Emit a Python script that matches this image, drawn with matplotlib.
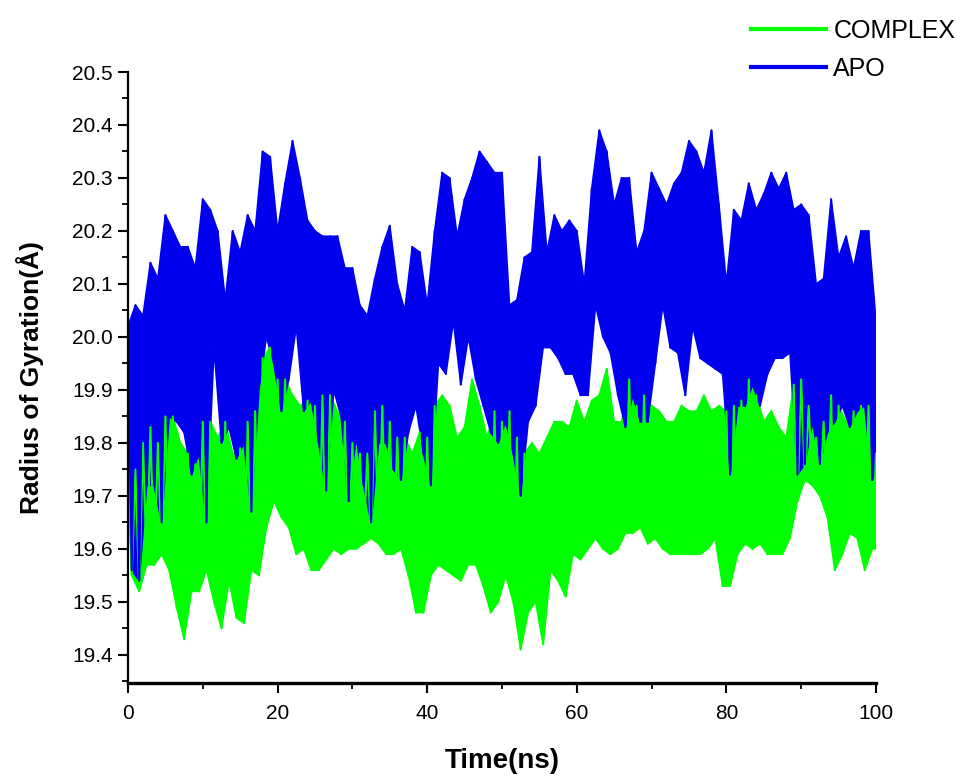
import numpy as np
import matplotlib
matplotlib.use('Agg')
import matplotlib.pyplot as plt
from matplotlib.ticker import MultipleLocator, FormatStrFormatter

plt.rcParams['font.family'] = ['Liberation Sans Narrow', 'Liberation Sans', 'DejaVu Sans']

# time axis, one bin per ns
time_ns = np.arange(0, 101)

# APO: upper / lower envelope of Rg per ns bin
apo_hi = [20.02, 20.06, 20.04, 20.14, 20.11, 20.23, 20.20, 20.17, 20.17, 20.13,
          20.26, 20.24, 20.20, 20.07, 20.20, 20.16, 20.23, 20.20, 20.35, 20.34,
          20.20, 20.29, 20.37, 20.30, 20.22, 20.20, 20.19, 20.19, 20.19, 20.13,
          20.13, 20.06, 20.04, 20.11, 20.17, 20.21, 20.10, 20.05, 20.17, 20.16,
          20.06, 20.20, 20.31, 20.30, 20.19, 20.26, 20.30, 20.35, 20.33, 20.31,
          20.31, 20.06, 20.07, 20.15, 20.16, 20.34, 20.16, 20.23, 20.20, 20.22,
          20.20, 20.10, 20.28, 20.39, 20.35, 20.25, 20.30, 20.30, 20.16, 20.20,
          20.31, 20.28, 20.25, 20.29, 20.31, 20.37, 20.35, 20.31, 20.39, 20.25,
          20.10, 20.24, 20.22, 20.29, 20.24, 20.27, 20.31, 20.28, 20.31, 20.24,
          20.25, 20.23, 20.10, 20.11, 20.26, 20.15, 20.19, 20.13, 20.20, 20.20, 20.03]
apo_lo = [19.56, 19.54, 19.72, 19.72, 19.65, 19.85, 19.84, 19.82, 19.74, 19.78,
          19.65, 19.98, 19.80, 19.83, 19.77, 19.80, 19.67, 19.90, 20.00, 19.95,
          19.86, 19.92, 20.02, 19.86, 19.88, 19.80, 19.71, 19.90, 19.85, 19.69,
          19.81, 19.72, 19.65, 19.80, 19.80, 19.75, 19.73, 19.82, 19.87, 19.78,
          19.72, 19.95, 19.93, 20.03, 19.91, 20.00, 19.92, 19.87, 19.82, 19.80,
          19.84, 19.78, 19.70, 19.84, 19.87, 19.98, 19.98, 19.96, 19.93, 19.93,
          19.89, 19.89, 20.06, 20.00, 19.97, 19.89, 19.83, 19.89, 19.84, 19.84,
          19.95, 20.06, 19.98, 19.97, 19.89, 20.02, 19.96, 19.95, 19.94, 19.93,
          19.74, 19.87, 19.87, 19.91, 19.87, 19.93, 19.96, 19.96, 19.97, 19.74,
          19.76, 19.84, 19.76, 19.82, 19.84, 19.87, 19.83, 19.86, 19.87, 19.73, 19.78]

# COMPLEX: upper / lower envelope
complex_hi = [19.76, 19.75, 19.80, 19.83, 19.80, 19.85, 19.85, 19.80, 19.78, 19.76,
              19.84, 19.84, 19.81, 19.84, 19.78, 19.79, 19.84, 19.86, 19.96, 19.98,
              19.92, 19.92, 19.89, 19.87, 19.88, 19.87, 19.89, 19.89, 19.86, 19.84,
              19.80, 19.78, 19.78, 19.86, 19.87, 19.84, 19.81, 19.81, 19.78, 19.82,
              19.81, 19.87, 19.89, 19.87, 19.81, 19.83, 19.92, 19.87, 19.81, 19.86,
              19.84, 19.86, 19.81, 19.78, 19.80, 19.78, 19.81, 19.84, 19.84, 19.83,
              19.88, 19.84, 19.88, 19.89, 19.94, 19.84, 19.84, 19.92, 19.87, 19.89,
              19.87, 19.86, 19.84, 19.84, 19.87, 19.86, 19.86, 19.89, 19.86, 19.87,
              19.86, 19.87, 19.88, 19.92, 19.89, 19.84, 19.86, 19.83, 19.81, 19.91,
              19.92, 19.87, 19.81, 19.84, 19.89, 19.87, 19.84, 19.86, 19.87, 19.87, 19.78]
complex_lo = [19.55, 19.52, 19.57, 19.57, 19.59, 19.56, 19.49, 19.43, 19.52, 19.52,
              19.56, 19.50, 19.45, 19.54, 19.47, 19.46, 19.56, 19.55, 19.64, 19.69,
              19.66, 19.64, 19.59, 19.60, 19.56, 19.56, 19.58, 19.60, 19.59, 19.60,
              19.60, 19.61, 19.62, 19.61, 19.59, 19.59, 19.60, 19.55, 19.48, 19.48,
              19.55, 19.57, 19.56, 19.55, 19.54, 19.57, 19.57, 19.53, 19.48, 19.50,
              19.55, 19.50, 19.41, 19.48, 19.50, 19.42, 19.56, 19.54, 19.51, 19.59,
              19.58, 19.60, 19.62, 19.60, 19.59, 19.60, 19.63, 19.63, 19.64, 19.61,
              19.62, 19.60, 19.59, 19.59, 19.59, 19.59, 19.59, 19.60, 19.62, 19.53,
              19.53, 19.59, 19.61, 19.60, 19.61, 19.59, 19.59, 19.59, 19.62, 19.69,
              19.73, 19.72, 19.70, 19.66, 19.56, 19.59, 19.63, 19.62, 19.56, 19.60, 19.60]

GREEN = '#00ff00'
BLUE = '#0000ee'


def draw_band(ax, hi, lo, color, label):
    hi = np.asarray(hi)
    lo = np.asarray(lo)
    # zig-zag between peaks and troughs, troughs half a ns after each peak
    xs = np.empty(2 * len(time_ns))
    ys = np.empty(2 * len(time_ns))
    xs[0::2] = time_ns
    xs[1::2] = time_ns + 0.5
    ys[0::2] = hi
    ys[1::2] = lo
    ax.fill(np.r_[time_ns, (time_ns + 0.5)[::-1]], np.r_[hi, lo[::-1]],
            color=color, lw=1.2)
    line, = ax.plot(xs, ys, color=color, lw=1.5, label=label)
    return line


fig = plt.figure(figsize=(9.71, 7.80), dpi=100)
ax = fig.add_axes([128 / 971, 1 - 683 / 780, (876 - 128) / 971, (683 - 72) / 780])

l1 = draw_band(ax, complex_hi, complex_lo, GREEN, 'COMPLEX')
l2 = draw_band(ax, apo_hi, apo_lo, BLUE, 'APO')

ax.set_xlim(0, 100)
ax.set_ylim(19.347, 20.5)
ax.xaxis.set_major_locator(MultipleLocator(20))
ax.xaxis.set_minor_locator(MultipleLocator(10))
ax.yaxis.set_minor_locator(MultipleLocator(0.05))
ax.set_yticks(np.arange(19.4, 20.55, 0.1))
ax.yaxis.set_major_formatter(FormatStrFormatter('%.1f'))

for side in ['top', 'right']:
    ax.spines[side].set_visible(False)
ax.spines['left'].set_linewidth(1.6)
ax.spines['bottom'].set_linewidth(2.4)
ax.tick_params(which='major', direction='out', length=7, width=1.5, labelsize=15, pad=4)
ax.tick_params(axis='x', which='major', pad=8)
ax.tick_params(which='minor', direction='out', length=4, width=1.3)

ax.set_xlabel('Time(ns)', fontsize=20, fontweight='bold', labelpad=18)
ax.set_ylabel('Radius of Gyration(Å)', fontsize=19, fontweight='bold', labelpad=20)

fig.legend(handles=[l1, l2], loc='upper left', bbox_to_anchor=(0.754, 1.0),
           frameon=False, fontsize=18, handlelength=3.0, handletextpad=0.3,
           labelspacing=0.55, borderaxespad=0.35)
for h in fig.legends[0].get_lines():
    h.set_linewidth(3)

fig.savefig('out.png', dpi=100)
